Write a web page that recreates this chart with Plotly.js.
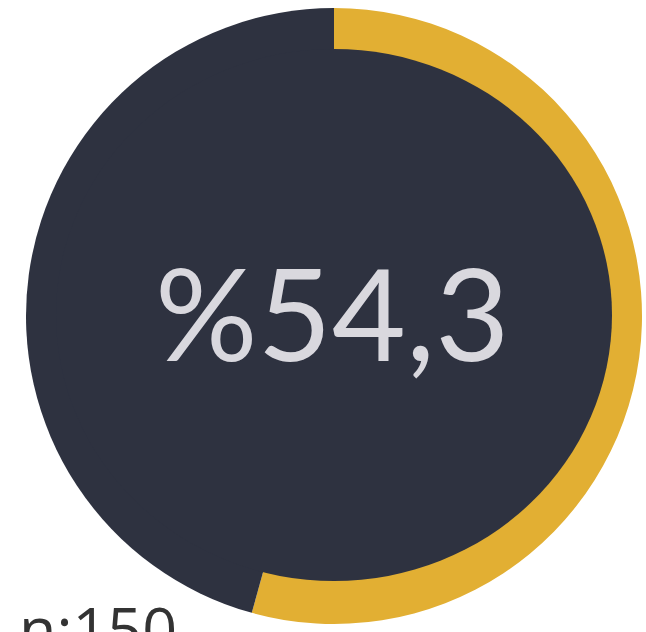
<!DOCTYPE html>
<html>
<head>
<meta charset="utf-8">
<script src="https://cdn.plot.ly/plotly-3.0.1.min.js"></script>
<style>html,body{margin:0;padding:0;background:#fff;}#chart{width:646px;height:632px;}</style>
</head>
<body>
<div id="chart"></div>
<script>
const labels = ["Evet", "Diğer"];
const values = [54.3, 45.7];
const colors = ["#e2af33", "#2e3240"];
const centerLabel = "%54,3";
const nLabel = "n:150";

const W = 646, H = 632;
const margin = {l: 26, r: 4, t: 8, b: 8};
const pw = W - margin.l - margin.r, ph = H - margin.t - margin.b;
// inner disc (pixels): centre (334, 315), radii 278 x 266
const icx = (334 - margin.l) / pw, icy = (H - margin.b - 315) / ph;
const rx = 278 / pw, ry = 266 / ph;

const data = [{
  type: "pie",
  labels: labels,
  values: values,
  sort: false,
  direction: "clockwise",
  rotation: 0,
  marker: {colors: colors, line: {width: 0}},
  textinfo: "none",
  hoverinfo: "none",
  showlegend: false
}];

const layout = {
  width: W, height: H,
  margin: margin,
  paper_bgcolor: "#ffffff",
  shapes: [{
    type: "circle", xref: "paper", yref: "paper",
    x0: icx - rx, x1: icx + rx, y0: icy - ry, y1: icy + ry,
    fillcolor: colors[1], line: {width: 0}, layer: "above"
  }],
  annotations: [
    {text: centerLabel, xref: "paper", yref: "paper", x: 0.496, y: 0.5065, xanchor: "center", yanchor: "middle",
     showarrow: false, font: {family: "Lato, 'Open Sans', sans-serif", size: 128, color: "#d9d8de", weight: 400}},
    {text: nLabel, xref: "paper", yref: "paper", x: -0.0154, y: 0.0656, xanchor: "left", yanchor: "top",
     showarrow: false, font: {family: "'Open Sans', sans-serif", size: 61, color: "#333333"}}
  ]
};

Plotly.newPlot("chart", data, layout, {staticPlot: true, displayModeBar: false});
</script>
</body>
</html>
